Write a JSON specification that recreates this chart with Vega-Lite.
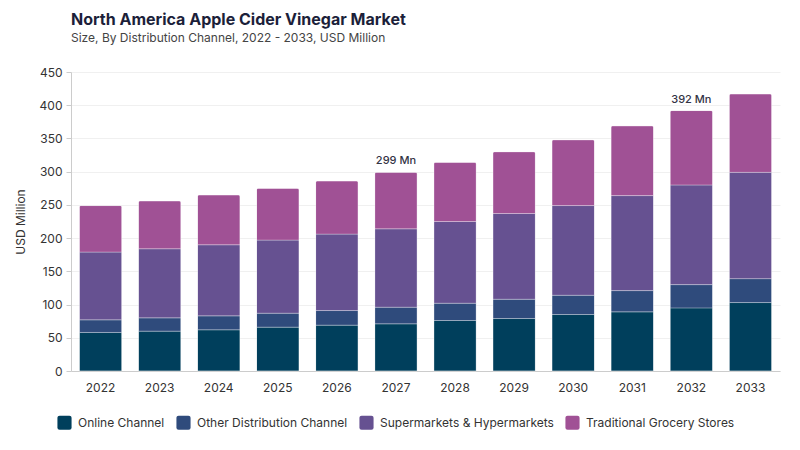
{
  "$schema": "https://vega.github.io/schema/vega-lite/v6.json",
  "autosize": "none",
  "padding": {"left": 71, "top": 72, "right": 20, "bottom": 79},
  "width": 709,
  "height": 299,
  "background": "white",
  "title": {
    "text": "North America Apple Cider Vinegar Market",
    "subtitle": "Size, By Distribution Channel, 2022 - 2033, USD Million",
    "anchor": "start",
    "frame": "group",
    "font": "Inter",
    "fontSize": 16,
    "fontWeight": "bold",
    "color": "#1c1f3a",
    "subtitleFont": "Inter",
    "subtitleFontSize": 12,
    "subtitleColor": "#444444",
    "subtitlePadding": 5,
    "offset": 22
  },
  "datasets": {
    "market": [
      {"year": "2022", "channel": "Online Channel", "value": 58},
      {"year": "2022", "channel": "Other Distribution Channel", "value": 19},
      {"year": "2022", "channel": "Supermarkets & Hypermarkets", "value": 102},
      {"year": "2022", "channel": "Traditional Grocery Stores", "value": 70},
      {"year": "2023", "channel": "Online Channel", "value": 60},
      {"year": "2023", "channel": "Other Distribution Channel", "value": 20},
      {"year": "2023", "channel": "Supermarkets & Hypermarkets", "value": 104},
      {"year": "2023", "channel": "Traditional Grocery Stores", "value": 72},
      {"year": "2024", "channel": "Online Channel", "value": 62},
      {"year": "2024", "channel": "Other Distribution Channel", "value": 21},
      {"year": "2024", "channel": "Supermarkets & Hypermarkets", "value": 107},
      {"year": "2024", "channel": "Traditional Grocery Stores", "value": 75},
      {"year": "2025", "channel": "Online Channel", "value": 66},
      {"year": "2025", "channel": "Other Distribution Channel", "value": 21},
      {"year": "2025", "channel": "Supermarkets & Hypermarkets", "value": 110},
      {"year": "2025", "channel": "Traditional Grocery Stores", "value": 78},
      {"year": "2026", "channel": "Online Channel", "value": 69},
      {"year": "2026", "channel": "Other Distribution Channel", "value": 22},
      {"year": "2026", "channel": "Supermarkets & Hypermarkets", "value": 115},
      {"year": "2026", "channel": "Traditional Grocery Stores", "value": 80},
      {"year": "2027", "channel": "Online Channel", "value": 71},
      {"year": "2027", "channel": "Other Distribution Channel", "value": 25},
      {"year": "2027", "channel": "Supermarkets & Hypermarkets", "value": 118},
      {"year": "2027", "channel": "Traditional Grocery Stores", "value": 85},
      {"year": "2028", "channel": "Online Channel", "value": 76},
      {"year": "2028", "channel": "Other Distribution Channel", "value": 26},
      {"year": "2028", "channel": "Supermarkets & Hypermarkets", "value": 123},
      {"year": "2028", "channel": "Traditional Grocery Stores", "value": 89},
      {"year": "2029", "channel": "Online Channel", "value": 79},
      {"year": "2029", "channel": "Other Distribution Channel", "value": 29},
      {"year": "2029", "channel": "Supermarkets & Hypermarkets", "value": 129},
      {"year": "2029", "channel": "Traditional Grocery Stores", "value": 93},
      {"year": "2030", "channel": "Online Channel", "value": 85},
      {"year": "2030", "channel": "Other Distribution Channel", "value": 29},
      {"year": "2030", "channel": "Supermarkets & Hypermarkets", "value": 135},
      {"year": "2030", "channel": "Traditional Grocery Stores", "value": 99},
      {"year": "2031", "channel": "Online Channel", "value": 89},
      {"year": "2031", "channel": "Other Distribution Channel", "value": 32},
      {"year": "2031", "channel": "Supermarkets & Hypermarkets", "value": 143},
      {"year": "2031", "channel": "Traditional Grocery Stores", "value": 105},
      {"year": "2032", "channel": "Online Channel", "value": 95},
      {"year": "2032", "channel": "Other Distribution Channel", "value": 35},
      {"year": "2032", "channel": "Supermarkets & Hypermarkets", "value": 150},
      {"year": "2032", "channel": "Traditional Grocery Stores", "value": 112},
      {"year": "2033", "channel": "Online Channel", "value": 103},
      {"year": "2033", "channel": "Other Distribution Channel", "value": 36},
      {"year": "2033", "channel": "Supermarkets & Hypermarkets", "value": 160},
      {"year": "2033", "channel": "Traditional Grocery Stores", "value": 118}
    ],
    "labels": [
      {"year": "2027", "total": 299, "label": "299 Mn"},
      {"year": "2032", "total": 392, "label": "392 Mn"}
    ]
  },
  "layer": [
    {
      "data": {"name": "market"},
      "mark": {
        "type": "bar",
        "cornerRadiusTopLeft": 2,
        "cornerRadiusTopRight": 2,
        "stroke": "#ffffff",
        "strokeWidth": 0.6,
        "strokeOpacity": 0.5
      },
      "encoding": {
        "x": {
          "field": "year",
          "type": "nominal",
          "scale": {"paddingInner": 0.28, "paddingOuter": 0.14},
          "axis": {
            "title": null,
            "labelAngle": 0,
            "ticks": false,
            "labelPadding": 11,
            "labelFontSize": 12,
            "labelColor": "#333333",
            "labelFont": "Inter",
            "domainColor": "#cccccc",
            "grid": false
          }
        },
        "y": {
          "field": "value",
          "type": "quantitative",
          "aggregate": "sum",
          "stack": "zero",
          "scale": {"domain": [0, 450], "nice": false},
          "axis": {
            "title": "USD Million",
            "titleFont": "Inter",
            "titleFontSize": 12,
            "titleFontWeight": "normal",
            "titleColor": "#333333",
            "titlePadding": 12,
            "values": [0, 50, 100, 150, 200, 250, 300, 350, 400, 450],
            "labelOverlap": false,
            "labelFlush": false,
            "labelFont": "Inter",
            "labelFontSize": 12,
            "labelColor": "#333333",
            "labelPadding": 4,
            "tickSize": 5,
            "tickColor": "#cccccc",
            "domainColor": "#cccccc",
            "gridColor": "#f0f0f0"
          }
        },
        "color": {
          "field": "channel",
          "type": "nominal",
          "scale": {
            "domain": ["Online Channel", "Other Distribution Channel", "Supermarkets & Hypermarkets", "Traditional Grocery Stores"],
            "range": ["#003f5c", "#2f4b7c", "#665191", "#a05195"]
          },
          "legend": {
            "title": null,
            "orient": "none",
            "direction": "horizontal",
            "legendX": -14,
            "legendY": 343,
            "symbolType": "M-0.7,-1H0.7Q1,-1 1,-0.7V0.7Q1,1 0.7,1H-0.7Q-1,1 -1,0.7V-0.7Q-1,-1 -0.7,-1Z",
            "symbolSize": 200,
            "symbolStrokeWidth": 0,
            "symbolOpacity": 1,
            "labelFont": "Inter",
            "labelFontSize": 12,
            "labelColor": "#333333",
            "labelOffset": 6,
            "labelLimit": 300,
            "columnPadding": 11
          }
        },
        "order": {"field": "channel", "sort": "ascending"}
      }
    },
    {
      "data": {"name": "labels"},
      "mark": {
        "type": "text",
        "dy": -11,
        "font": "Inter",
        "fontSize": 11,
        "fontWeight": 500,
        "color": "#333344"
      },
      "encoding": {
        "x": {"field": "year", "type": "nominal"},
        "y": {
          "field": "total",
          "type": "quantitative",
          "scale": {"domain": [0, 450], "nice": false},
          "axis": {
            "title": "USD Million",
            "titleFont": "Inter",
            "titleFontSize": 12,
            "titleFontWeight": "normal",
            "titleColor": "#333333",
            "titlePadding": 12,
            "values": [0, 50, 100, 150, 200, 250, 300, 350, 400, 450],
            "labelOverlap": false,
            "labelFlush": false,
            "labelFont": "Inter",
            "labelFontSize": 12,
            "labelColor": "#333333",
            "labelPadding": 4,
            "tickSize": 5,
            "tickColor": "#cccccc",
            "domainColor": "#cccccc",
            "gridColor": "#f0f0f0"
          }
        },
        "text": {"field": "label"}
      }
    }
  ],
  "config": {
    "view": {"stroke": null}
  }
}
